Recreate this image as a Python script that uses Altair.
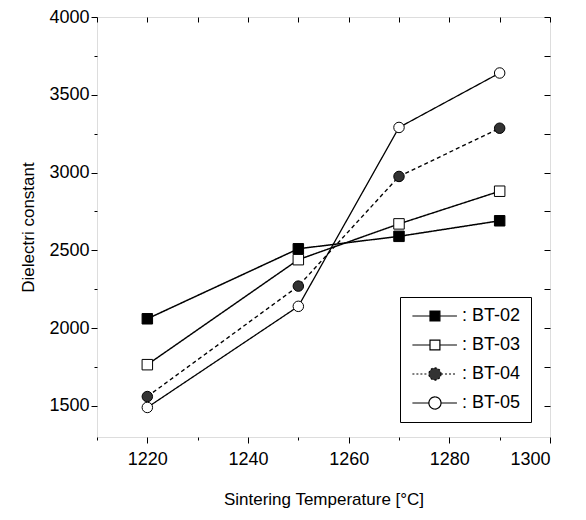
import altair as alt
import pandas as pd

temps = [1220, 1250, 1270, 1290]
series_names = ["BT-02", "BT-03", "BT-04", "BT-05"]
bt02 = [2060, 2510, 2590, 2690]
bt03 = [1765, 2440, 2670, 2880]
bt04 = [1560, 2270, 2975, 3285]
bt05 = [1490, 2140, 3290, 3640]

x_major = [1220, 1240, 1260, 1280, 1300]
x_minor = [1210, 1230, 1250, 1270, 1290]
y_major = [1500, 2000, 2500, 3000, 3500, 4000]
y_minor = [1750, 2250, 2750, 3250, 3750]

rows = []
for name, vals in zip(series_names, [bt02, bt03, bt04, bt05]):
    for t, v in zip(temps, vals):
        rows.append({"series": name, "temp": t, "value": v})
df = pd.DataFrame(rows)

FONT = "Liberation Sans"
xscale = alt.Scale(domain=[1210, 1300], nice=False, zero=False)
yscale = alt.Scale(domain=[1300, 4000], nice=False, zero=False)

def ax(orient, values, size, labels=False, title=None, offset=0, **kw):
    return alt.Axis(orient=orient, values=values, tickSize=size, labels=labels,
                    title=title, offset=offset, domain=False, grid=False,
                    tickColor="black", tickWidth=1, format="d", **kw)

lines = alt.Chart(df).mark_line(color="black").encode(
    x=alt.X("temp:Q", scale=xscale,
            axis=ax("bottom", x_major, 6, labels=True, title="Sintering Temperature [°C]",
                    labelFontSize=18, labelFont=FONT, labelColor="black", labelPadding=7,
                    titleFontSize=17, titleFont=FONT, titleFontWeight="normal",
                    titleColor="black", titlePadding=23)),
    y=alt.Y("value:Q", scale=yscale,
            axis=ax("left", y_major, 6, labels=True, title="Dielectri constant",
                    labelFontSize=18, labelFont=FONT, labelColor="black", labelPadding=2,
                    titleFontSize=17, titleFont=FONT, titleFontWeight="normal",
                    titleColor="black", titlePadding=11)),
    detail="series:N",
    strokeDash=alt.StrokeDash("series:N", scale=alt.Scale(domain=series_names,
                              range=[[1, 0], [1, 0], [4, 3], [1, 0]]), legend=None),
    strokeWidth=alt.StrokeWidth("series:N", scale=alt.Scale(domain=series_names,
                                range=[1.5, 1.3, 1.0, 1.4]), legend=None),
)

points = alt.Chart(df).mark_point(stroke="black", strokeWidth=1, opacity=1).encode(
    x=alt.X("temp:Q", scale=xscale, axis=ax("bottom", x_minor, 3)),
    y=alt.Y("value:Q", scale=yscale, axis=ax("left", y_minor, 3)),
    shape=alt.Shape("series:N", scale=alt.Scale(domain=series_names,
                    range=["square", "square", "circle", "circle"]), legend=None),
    size=alt.Size("series:N", scale=alt.Scale(domain=series_names,
                  range=[110, 110, 170, 170]), legend=None),
    fill=alt.Fill("series:N", scale=alt.Scale(domain=series_names,
                  range=["black", "white", "#333333", "white"]), legend=None),
)

sq = "M-1.2,0H2.0M3.8,0H6.9M2.0,-0.9H3.8V0.9H2.0Z"
ci = "M-1.2,0H1.8M4.0,0H6.9M4.0,0A1.1,1.1,0,1,1,1.8,0A1.1,1.1,0,1,1,4.0,0Z"

leg = alt.Legend(title=None, orient="none", legendX=303, legendY=280,
                 symbolSize=121, symbolStrokeWidth=1.2, symbolOpacity=1,
                 labelExpr="': ' + datum.label", labelFontSize=18, labelFont=FONT,
                 labelColor="black", labelOffset=34, strokeColor="black",
                 padding=10, rowPadding=11, fillColor="white")

legend_layer = alt.Chart(df).transform_filter("false").mark_point(
    filled=False, opacity=1, strokeWidth=1.2).encode(
    x=alt.X("temp:Q", scale=xscale, axis=ax("top", x_major + x_minor, 5, offset=-5)),
    y=alt.Y("value:Q", scale=yscale, axis=ax("right", y_major + y_minor, 6, offset=-6)),
    shape=alt.Shape("series:N", scale=alt.Scale(domain=series_names,
                    range=[sq, sq, ci, ci]), legend=leg),
    fill=alt.Fill("series:N", scale=alt.Scale(domain=series_names,
                  range=["black", "white", "#333333", "white"]), legend=leg),
    stroke=alt.Stroke("series:N", scale=alt.Scale(domain=series_names,
                      range=["black", "black", "black", "black"]), legend=leg),
    strokeDash=alt.StrokeDash("series:N", scale=alt.Scale(domain=series_names,
                              range=[[1, 0], [1, 0], [2, 2], [1, 0]]), legend=leg),
)

chart = alt.layer(lines, points, legend_layer).resolve_scale(
    shape="independent", fill="independent", stroke="independent",
    strokeDash="independent"
).resolve_axis(x="independent", y="independent").resolve_legend(
    shape="independent", fill="independent", stroke="independent",
    strokeDash="independent"
).properties(
    width=453, height=420,
    autosize=alt.AutoSizeParams(type="none"),
    padding={"left": 89, "top": 9, "right": 20, "bottom": 82},
).configure_view(stroke="black", strokeWidth=1.3).configure(background="white")

chart.save("out.html", embed_options={"renderer": "svg", "actions": False})
